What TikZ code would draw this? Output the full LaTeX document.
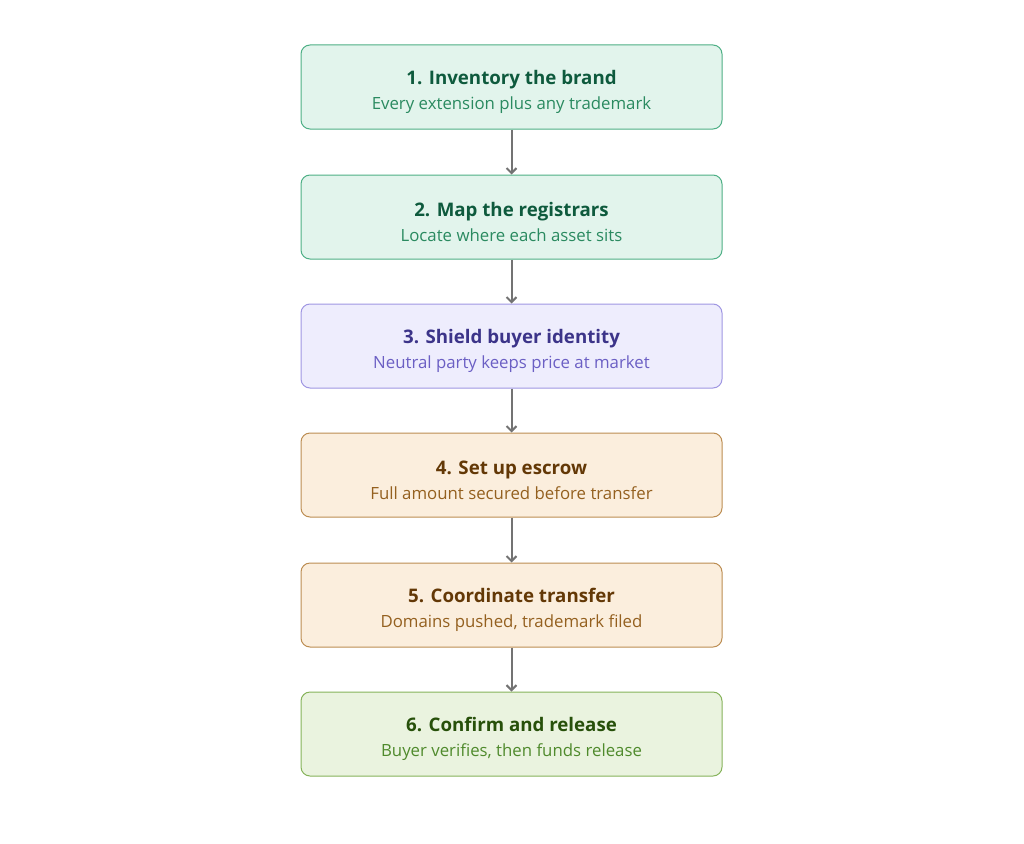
\documentclass[tikz,border=0pt]{standalone}
\usepackage{fontspec}
\setmainfont{Open Sans}
\usepackage{xcolor}
\usepackage{tikz}
\usetikzlibrary{arrows.meta}
\usetikzlibrary{positioning}

\definecolor{tealfill}{HTML}{E2F4EC}
\definecolor{tealdraw}{HTML}{4DAF85}
\definecolor{tealtitle}{HTML}{0E5A3D}
\definecolor{tealsub}{HTML}{2A8A60}
\definecolor{violetfill}{HTML}{EEEDFD}
\definecolor{violetdraw}{HTML}{9F96E2}
\definecolor{violettitle}{HTML}{3C3489}
\definecolor{violetsub}{HTML}{6B5FC4}
\definecolor{sandfill}{HTML}{FBEEDD}
\definecolor{sanddraw}{HTML}{BC8D52}
\definecolor{sandtitle}{HTML}{633806}
\definecolor{sandsub}{HTML}{94601F}
\definecolor{leaffill}{HTML}{EAF3DF}
\definecolor{leafdraw}{HTML}{86B35A}
\definecolor{leaftitle}{HTML}{27500A}
\definecolor{leafsub}{HTML}{4F8A2C}
\definecolor{flowgray}{HTML}{737373}

\newcommand{\boxtitle}[1]{{\fontsize{18.7}{25}\selectfont\bfseries\rule{0pt}{25pt}#1}}
\newcommand{\boxsub}[1]{{#1}}

\begin{document}
\begin{tikzpicture}[x=1pt,y=-1pt,
	stagebox/.style={rectangle,rounded corners=9pt,line width=1pt,minimum width=421pt,minimum height=84pt,align=center,inner sep=0pt,font=\fontsize{16.8}{25}\selectfont},
	tealbox/.style={stagebox,fill=tealfill,draw=tealdraw,text=tealsub},
	violetbox/.style={stagebox,fill=violetfill,draw=violetdraw,text=violetsub},
	sandbox/.style={stagebox,fill=sandfill,draw=sanddraw,text=sandsub},
	leafbox/.style={stagebox,fill=leaffill,draw=leafdraw,text=leafsub},
	flow/.style={-{Straight Barb[length=5pt,width=10pt]},line width=2pt,draw=flowgray}]
	\useasboundingbox (0,0) rectangle (1024,843);
	\node[tealbox] (inventory) at (511.5,87) {\boxtitle{\textcolor{tealtitle}{1. Inventory the brand}}\\\boxsub{Every extension plus any trademark}};
	\node[tealbox] (registrars) at (511.5,217) {\boxtitle{\textcolor{tealtitle}{2. Map the registrars}}\\\boxsub{Locate where each asset sits}};
	\node[violetbox] (shield) at (511.5,346) {\boxtitle{\textcolor{violettitle}{3. Shield buyer identity}}\\\boxsub{Neutral party keeps price at market}};
	\node[sandbox] (escrow) at (511.5,475) {\boxtitle{\textcolor{sandtitle}{4. Set up escrow}}\\\boxsub{Full amount secured before transfer}};
	\node[sandbox] (transfer) at (511.5,605) {\boxtitle{\textcolor{sandtitle}{5. Coordinate transfer}}\\\boxsub{Domains pushed, trademark filed}};
	\node[leafbox] (release) at (511.5,734) {\boxtitle{\textcolor{leaftitle}{6. Confirm and release}}\\\boxsub{Buyer verifies, then funds release}};
	\draw[flow] (inventory) -- (registrars);
	\draw[flow] (registrars) -- (shield);
	\draw[flow] (shield) -- (escrow);
	\draw[flow] (escrow) -- (transfer);
	\draw[flow] (transfer) -- (release);
\end{tikzpicture}
\end{document}
